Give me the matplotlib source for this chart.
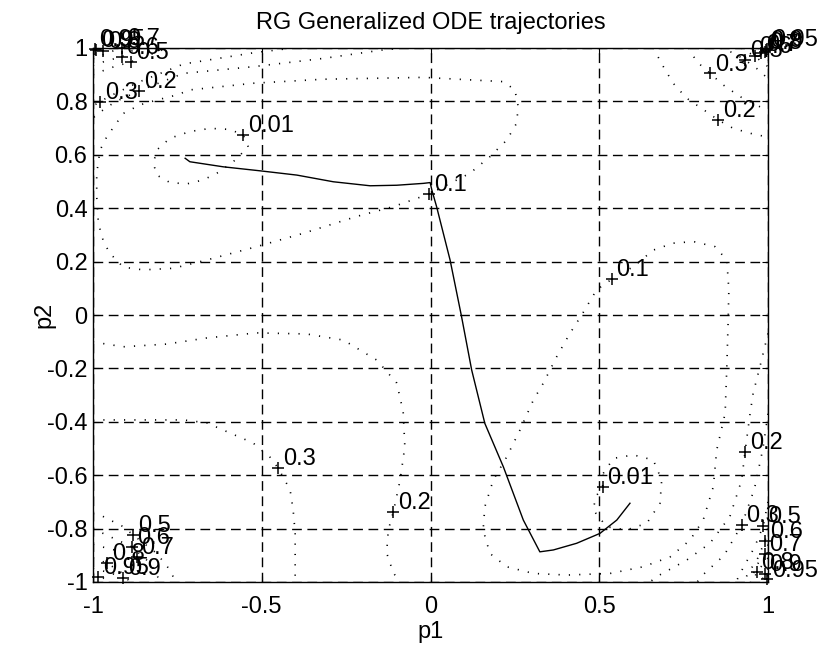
import matplotlib
matplotlib.use('Agg')
import matplotlib.pyplot as plt

plt.rcParams['font.family'] = ['Liberation Sans', 'DejaVu Sans']
plt.rcParams['font.size'] = 17

title = 'RG Generalized ODE trajectories'
x_ticks = [-1, -0.5, 0, 0.5, 1]
x_tick_labels = ['-1', '-0.5', '0', '0.5', '1']
y_ticks = [-1, -0.8, -0.6, -0.4, -0.2, 0, 0.2, 0.4, 0.6, 0.8, 1]
y_tick_labels = ['-1', '-0.8', '-0.6', '-0.4', '-0.2', '0', '0.2', '0.4', '0.6', '0.8', '1']

# trajectory
traj_p1 = [-0.727, -0.713, -0.614, -0.505, -0.396, -0.288, -0.179, -0.100, -0.021, -0.001,
           0.004, 0.018, 0.058, 0.092, 0.122, 0.161, 0.216, 0.275, 0.324, 0.364, 0.433,
           0.502, 0.552, 0.591]
traj_p2 = [0.587, 0.574, 0.555, 0.540, 0.524, 0.499, 0.484, 0.486, 0.493, 0.496,
           0.468, 0.406, 0.206, -0.006, -0.206, -0.406, -0.569, -0.768, -0.887, -0.880, -0.855,
           -0.818, -0.768, -0.705]

# contour lines
c001_ul_p1 = [-0.540, -0.555, -0.594, -0.653, -0.713, -0.772, -0.811, -0.821, -0.811, -0.772,
              -0.722, -0.673, -0.624, -0.579, -0.540]
c001_ul_p2 = [0.630, 0.674, 0.695, 0.699, 0.687, 0.662, 0.618, 0.568, 0.524, 0.496,
              0.491, 0.506, 0.537, 0.580, 0.630]
c001_lr_p1 = [0.512, 0.542, 0.601, 0.660, 0.685, 0.680, 0.641, 0.581, 0.522, 0.482, 0.490, 0.510, 0.512]
c001_lr_p2 = [-0.593, -0.537, -0.524, -0.543, -0.618, -0.705, -0.780, -0.805, -0.793, -0.730,
              -0.680, -0.643, -0.593]

c01_ul_p1 = [-0.004, -0.110, -0.219, -0.377, -0.515, -0.663, -0.762, -0.851, -0.910, -0.950,
             -0.969, -0.984, -0.989, -0.989, -0.979, -0.959, -0.910, -0.861, -0.811, -0.752,
             -0.713, -0.525, -0.318, -0.021, 0.216, 0.250, 0.260, 0.255, 0.226, 0.176,
             0.117, 0.058, -0.004]
c01_ul_p2 = [0.453, 0.406, 0.369, 0.306, 0.256, 0.206, 0.175, 0.169, 0.179, 0.231,
             0.275, 0.343, 0.443, 0.531, 0.618, 0.668, 0.755, 0.787, 0.805, 0.824,
             0.843, 0.868, 0.883, 0.890, 0.874, 0.843, 0.780, 0.718, 0.655, 0.593,
             0.531, 0.493, 0.453]
c01_r_p1 = [0.537, 0.601, 0.660, 0.719, 0.779, 0.843, 0.878, 0.884, 0.882, 0.878, 0.873,
            0.848, 0.838, 0.808, 0.769, 0.710, 0.630, 0.532, 0.404, 0.305, 0.226, 0.176,
            0.156, 0.161, 0.186, 0.226, 0.265, 0.305, 0.334, 0.374, 0.413, 0.448, 0.492, 0.537]
c01_r_p2 = [0.134, 0.181, 0.243, 0.269, 0.275, 0.256, 0.206, 0.094, -0.019, -0.194, -0.368,
            -0.506, -0.643, -0.768, -0.843, -0.906, -0.943, -0.968, -0.974, -0.968, -0.943, -0.893,
            -0.805, -0.718, -0.618, -0.531, -0.431, -0.318, -0.256, -0.156, -0.069, 0.000, 0.094, 0.134]

c02_ul_p1 = [-0.081, -0.140, -0.318, -0.525, -0.732, -0.863, -0.935, -0.979, -1.0]
c02_ul_p2 = [1.0, 0.993, 0.961, 0.930, 0.905, 0.840, 0.798, 0.760, 0.738]
c02_ur_p1 = [0.660, 0.690, 0.719, 0.759, 0.818, 0.853, 0.897, 0.966, 1.0]
c02_ur_p2 = [1.0, 0.930, 0.868, 0.812, 0.761, 0.730, 0.699, 0.674, 0.668]
c02_ll_p1 = [-1.0, -0.910, -0.782, -0.663, -0.515, -0.367, -0.258, -0.159, -0.100, -0.081,
             -0.076, -0.090, -0.110, -0.125, -0.130, -0.110, -0.090]
c02_ll_p2 = [-0.101, -0.119, -0.109, -0.086, -0.067, -0.071, -0.094, -0.169, -0.255, -0.362,
             -0.493, -0.618, -0.737, -0.805, -0.891, -0.966, -1.0]
c02_lr_p1 = [1.0, 0.976, 0.956, 0.947, 0.932, 0.922, 0.887, 0.828, 0.759, 0.670, 0.650]
c02_lr_p2 = [-0.069, -0.194, -0.293, -0.368, -0.512, -0.618, -0.755, -0.855, -0.918, -0.980, -1.0]

c03_ul_p1 = [-0.407, -0.525, -0.732, -0.863, -0.950, -0.979, -1.0]
c03_ul_p2 = [1.0, 0.982, 0.940, 0.873, 0.820, 0.799, 0.783]
c03_ur_p1 = [0.764, 0.789, 0.828, 0.868, 0.917, 0.976, 1.0]
c03_ur_p2 = [1.0, 0.949, 0.905, 0.861, 0.818, 0.780, 0.768]
c03_ll_p1 = [-1.0, -0.732, -0.663, -0.594, -0.526, -0.476, -0.451, -0.416, -0.407, -0.401, -0.401]
c03_ll_p2 = [-0.393, -0.393, -0.404, -0.442, -0.479, -0.532, -0.574, -0.655, -0.730, -0.816, -1.0]
c03_lr_p1 = [1.0, 0.985, 0.960, 0.922, 0.870, 0.810, 0.790]
c03_lr_p2 = [-0.37, -0.50, -0.65, -0.787, -0.90, -0.97, -1.0]

# crowded corner contours
c05_ul_p1 = [-1.0, -0.95, -0.886, -0.83, -0.78]
c05_ul_p2 = [0.90, 0.925, 0.949, 0.975, 1.0]
c06_ul_p1 = [-1.0, -0.96, -0.915, -0.87]
c06_ul_p2 = [0.935, 0.952, 0.967, 1.0]
c07_ul_p1 = [-1.0, -0.95, -0.914]
c07_ul_p2 = [0.96, 0.985, 1.0]
c08_ul_p1 = [-1.0, -0.97, -0.95]
c08_ul_p2 = [0.975, 0.99, 1.0]
c09_ul_p1 = [-1.0, -0.975]
c09_ul_p2 = [0.987, 1.0]
c095_ul_p1 = [-1.0, -0.99]
c095_ul_p2 = [0.994, 1.0]

c05_ur_p1 = [0.86, 0.90, 0.932, 0.97, 1.0]
c05_ur_p2 = [1.0, 0.98, 0.955, 0.92, 0.885]
c06_ur_p1 = [0.92, 0.96, 1.0]
c06_ur_p2 = [1.0, 0.97, 0.93]
c07_ur_p1 = [0.95, 0.98, 1.0]
c07_ur_p2 = [1.0, 0.98, 0.955]
c08_ur_p1 = [0.97, 0.99, 1.0]
c08_ur_p2 = [1.0, 0.985, 0.97]
c09_ur_p1 = [0.985, 1.0]
c09_ur_p2 = [1.0, 0.985]
c095_ur_p1 = [0.993, 1.0]
c095_ur_p2 = [1.0, 0.993]

c05_ll_p1 = [-1.0, -0.979, -0.91, -0.881, -0.811, -0.772, -0.755]
c05_ll_p2 = [-0.745, -0.749, -0.793, -0.824, -0.893, -0.955, -1.0]
c06_ll_p1 = [-1.0, -0.95, -0.885, -0.83, -0.80]
c06_ll_p2 = [-0.80, -0.83, -0.868, -0.93, -1.0]
c07_ll_p1 = [-1.0, -0.92, -0.871, -0.855, -0.85]
c07_ll_p2 = [-0.86, -0.885, -0.905, -0.95, -1.0]
c08_ll_p1 = [-1.0, -0.959, -0.92, -0.89]
c08_ll_p2 = [-0.91, -0.929, -0.96, -1.0]
c09_ll_p1 = [-1.0, -0.95, -0.91, -0.905]
c09_ll_p2 = [-0.95, -0.965, -0.985, -1.0]
c095_ll_p1 = [-1.0, -0.97, -0.95]
c095_ll_p2 = [-0.974, -0.985, -1.0]

c05_lr_p1 = [1.0, 0.986, 0.960, 0.925, 0.905]
c05_lr_p2 = [-0.70, -0.79, -0.87, -0.95, -1.0]
c06_lr_p1 = [1.0, 0.991, 0.970, 0.940, 0.928]
c06_lr_p2 = [-0.80, -0.846, -0.91, -0.97, -1.0]
c07_lr_p1 = [1.0, 0.990, 0.965, 0.948]
c07_lr_p2 = [-0.86, -0.895, -0.94, -1.0]
c08_lr_p1 = [1.0, 0.985, 0.966, 0.958]
c08_lr_p2 = [-0.91, -0.935, -0.961, -1.0]
c09_lr_p1 = [1.0, 0.99, 0.98]
c09_lr_p2 = [-0.95, -0.97, -1.0]
c095_lr_p1 = [1.0, 0.996, 0.99]
c095_lr_p2 = [-0.975, -0.985, -1.0]

# clabel positions ('+' marker and value)
label_text = ['0.01', '0.01', '0.1', '0.1', '0.2', '0.2', '0.2', '0.2', '0.3', '0.3', '0.3', '0.3',
              '0.5', '0.6', '0.7', '0.8', '0.9', '0.95',
              '0.5', '0.6', '0.7', '0.8', '0.9', '0.95',
              '0.5', '0.6', '0.7', '0.8', '0.9', '0.95',
              '0.5', '0.6', '0.7', '0.8', '0.9', '0.95']
label_p1 = [-0.555, 0.510, -0.004, 0.537, -0.863, 0.853, -0.110, 0.932, -0.979, 0.828, -0.451, 0.922,
            -0.886, -0.915, -0.914, -0.97, -0.99, -0.995,
            0.932, 0.96, 0.98, 0.99, 0.993, 0.997,
            -0.881, -0.885, -0.871, -0.959, -0.91, -0.985,
            0.986, 0.991, 0.990, 0.966, 0.99, 0.998]
label_p2 = [0.674, -0.643, 0.453, 0.134, 0.840, 0.730, -0.737, -0.512, 0.799, 0.905, -0.574, -0.787,
            0.949, 0.967, 1.0, 0.99, 0.992, 0.997,
            0.955, 0.97, 0.98, 0.985, 0.993, 0.997,
            -0.824, -0.868, -0.905, -0.929, -0.985, -0.98,
            -0.79, -0.846, -0.895, -0.961, -0.97, -0.99]

contour_lines = [
    (c001_ul_p1, c001_ul_p2), (c001_lr_p1, c001_lr_p2),
    (c01_ul_p1, c01_ul_p2), (c01_r_p1, c01_r_p2),
    (c02_ul_p1, c02_ul_p2), (c02_ur_p1, c02_ur_p2), (c02_ll_p1, c02_ll_p2), (c02_lr_p1, c02_lr_p2),
    (c03_ul_p1, c03_ul_p2), (c03_ur_p1, c03_ur_p2), (c03_ll_p1, c03_ll_p2), (c03_lr_p1, c03_lr_p2),
    (c05_ul_p1, c05_ul_p2), (c06_ul_p1, c06_ul_p2), (c07_ul_p1, c07_ul_p2),
    (c08_ul_p1, c08_ul_p2), (c09_ul_p1, c09_ul_p2), (c095_ul_p1, c095_ul_p2),
    (c05_ur_p1, c05_ur_p2), (c06_ur_p1, c06_ur_p2), (c07_ur_p1, c07_ur_p2),
    (c08_ur_p1, c08_ur_p2), (c09_ur_p1, c09_ur_p2), (c095_ur_p1, c095_ur_p2),
    (c05_ll_p1, c05_ll_p2), (c06_ll_p1, c06_ll_p2), (c07_ll_p1, c07_ll_p2),
    (c08_ll_p1, c08_ll_p2), (c09_ll_p1, c09_ll_p2), (c095_ll_p1, c095_ll_p2),
    (c05_lr_p1, c05_lr_p2), (c06_lr_p1, c06_lr_p2), (c07_lr_p1, c07_lr_p2),
    (c08_lr_p1, c08_lr_p2), (c09_lr_p1, c09_lr_p2), (c095_lr_p1, c095_lr_p2),
]

fig = plt.figure(figsize=(8.23, 6.49), dpi=100)
ax = fig.add_axes([93 / 823, 1 - 582 / 649, 675 / 823, 534 / 649])

# dotted contours
for xs, ys in contour_lines:
    ax.plot(xs, ys, color='k', lw=1.2, ls=(0, (0.7, 5.5)))

# '+' markers with level labels
ax.plot(label_p1, label_p2, '+', color='k', ms=8, mew=1.1, clip_on=False)
for t, px, py in zip(label_text, label_p1, label_p2):
    ax.annotate(t, (px, py), xytext=(3.5, 2), textcoords='offset points',
                ha='left', va='baseline', fontsize=17, color='k', annotation_clip=False)

# trajectory
ax.plot(traj_p1, traj_p2, color='k', lw=1.0)

ax.set_xlim(-1, 1)
ax.set_ylim(-1, 1)
ax.set_xticks(x_ticks)
ax.set_xticklabels(x_tick_labels)
ax.set_yticks(y_ticks)
ax.set_yticklabels(y_tick_labels)
ax.tick_params(direction='in', top=True, right=True, length=4, width=0.8)
ax.tick_params(axis='x', pad=10)
ax.tick_params(axis='y', pad=4)
ax.grid(True, color='k', ls=(0, (7, 4)), lw=1.0)
for s in ax.spines.values():
    s.set_linewidth(1.0)

ax.set_title(title, fontsize=17, pad=14)
ax.set_xlabel('p1', labelpad=2)
ax.set_ylabel('p2')
ax.yaxis.set_label_coords(-0.055, 0.5)

fig.savefig('out.png', dpi=100)
